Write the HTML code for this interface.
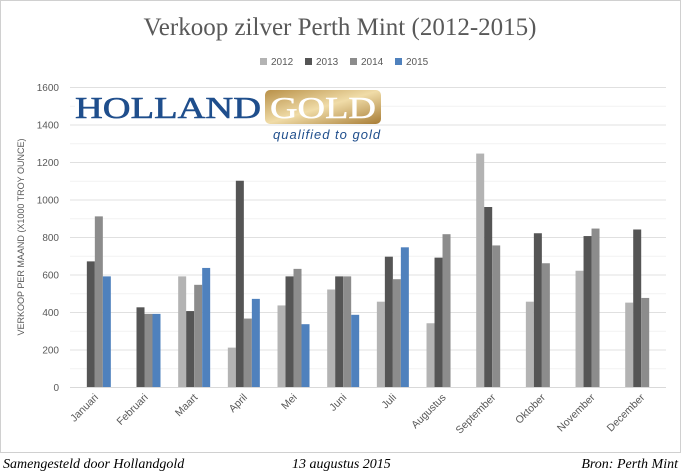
<!DOCTYPE html>
<html><head><meta charset="utf-8"><style>
body{margin:0;background:#fff;}
svg{display:block;font-family:"Liberation Sans",sans-serif;}
</style></head><body>
<svg width="681" height="474" viewBox="0 0 681 474" xmlns="http://www.w3.org/2000/svg">
<rect x="0.5" y="0.5" width="680" height="452" fill="#fff" stroke="#d0d0d0"/>
<text x="340" y="35" text-anchor="middle" font-family="Liberation Serif,serif" font-size="25" fill="#595959">Verkoop zilver Perth Mint (2012-2015)</text>
<g font-size="10" fill="#595959">
<rect x="260" y="58" width="7" height="7" fill="#b3b3b3"/><text x="271" y="65">2012</text>
<rect x="305" y="58" width="7" height="7" fill="#555"/><text x="316" y="65">2013</text>
<rect x="350" y="58" width="7" height="7" fill="#8c8c8c"/><text x="361" y="65">2014</text>
<rect x="395" y="58" width="7" height="7" fill="#4f81bd"/><text x="406" y="65">2015</text>
</g>
<g id="grid" stroke="#e8e8e8" stroke-width="1"></g>
<g id="bars"></g>
<line x1="70" y1="387.5" x2="666" y2="387.5" stroke="#d9d9d9"/>
<g font-size="10" fill="#595959" text-anchor="end" id="ylab"></g>
<text transform="translate(24,237) rotate(-90)" text-anchor="middle" font-size="9" fill="#595959">VERKOOP PER MAAND (X1000 TROY OUNCE)</text>
<g id="xlab" font-size="10.5" fill="#595959" text-anchor="end"></g>
<rect x="75" y="95" width="190" height="26" fill="#fff"/>
<text x="75" y="118" font-family="Liberation Serif,serif" font-size="31" fill="#1f4e8c" stroke="#1f4e8c" stroke-width="0.6" textLength="186" lengthAdjust="spacingAndGlyphs">HOLLAND</text>
<defs><linearGradient id="g" x1="0" y1="0" x2="1" y2="1"><stop offset="0" stop-color="#b89048"/><stop offset="0.5" stop-color="#f0dca8"/><stop offset="1" stop-color="#a77c35"/></linearGradient></defs>
<rect x="265" y="90" width="116" height="34" rx="5" fill="url(#g)"/>
<text x="270" y="118" font-family="Liberation Serif,serif" font-size="31" fill="#fff" stroke="#fff" stroke-width="0.5" textLength="106" lengthAdjust="spacingAndGlyphs">GOLD</text>
<rect x="270" y="126" width="112" height="16" fill="#fff"/>
<text x="273" y="139" font-family="Liberation Sans,sans-serif" font-style="italic" font-size="13" fill="#1f4e8c" letter-spacing="1">qualified to gold</text>
<g font-family="Liberation Serif,serif" font-style="italic" font-size="14" fill="#000">
<text x="3" y="468">Samengesteld door Hollandgold</text>
<text x="292" y="468">13 augustus 2015</text>
<text x="678" y="468" text-anchor="end">Bron: Perth Mint</text>
</g>
<script>
var d=[[null,670,910,590],[null,425,390,390],[590,405,545,635],[210,1100,365,470],[435,590,630,335],[520,590,590,385],[455,695,575,745],[340,690,815,null],[1245,960,755,null],[455,820,660,null],[620,805,845,null],[450,840,475,null]];
var c=["#b3b3b3","#555","#8c8c8c","#4f81bd"];
var m=["Januari","Februari","Maart","April","Mei","Juni","Juli","Augustus","September","Oktober","November","December"];
var ns="http://www.w3.org/2000/svg";
function el(t,a,p,tx){var e=document.createElementNS(ns,t);for(var k in a)e.setAttribute(k,a[k]);if(tx)e.textContent=tx;document.getElementById(p).appendChild(e);}
for(var v=100;v<=1600;v+=100){var y=387-v*0.1875;el("line",{x1:70,x2:666,y1:y+0.5,y2:y+0.5,stroke:v%200?"#f2f2f2":"#e0e0e0"},"grid");}
for(var v=0;v<=1600;v+=200){el("text",{x:59,y:387-v*0.1875+4},"ylab",String(v));}
var w=49.67;
for(var i=0;i<12;i++){var cx=70+w*(i+0.5);
for(var j=0;j<4;j++){var v=d[i][j];if(v==null)continue;var h=v*0.1875;el("rect",{x:cx-16+j*8,y:387-h,width:8,height:h,fill:c[j]},"bars");}
el("text",{x:cx+4,y:398,transform:"rotate(-45 "+(cx+4)+" 398)"},"xlab",m[i]);}
</script>
</svg>
</body></html>
